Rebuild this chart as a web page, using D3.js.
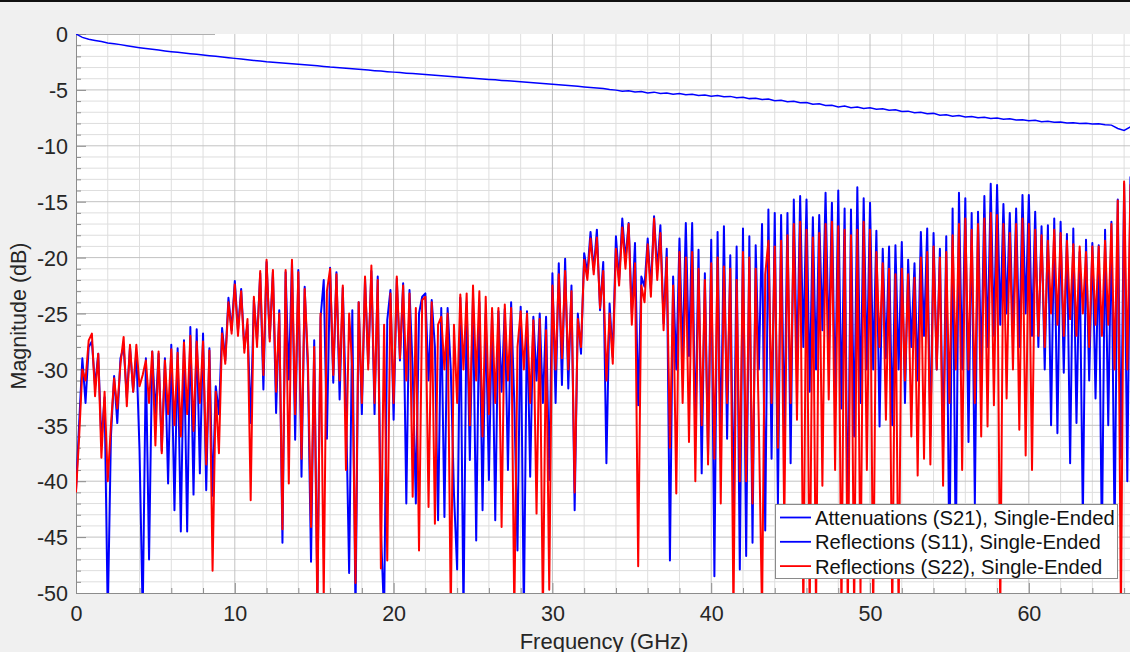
<!DOCTYPE html>
<html>
<head>
<meta charset="utf-8">
<script src="https://d3js.org/d3.v7.min.js"></script>
<style>
  html, body { margin: 0; padding: 0; background: #f0f0f0; }
  svg { display: block; font-family: "Liberation Sans", Arial, sans-serif; }
</style>
</head>
<body>
<div id="chart"></div>
<script>
// Sweep steps of the measured traces (GHz)
const reflStepGHz = 0.2;
const attStepGHz = 0.4;

const xTickValues = [0, 10, 20, 30, 40, 50, 60];
const yTickValues = [0, -5, -10, -15, -20, -25, -30, -35, -40, -45, -50];
const legendLabels = [
  'Attenuations (S21), Single-Ended',
  'Reflections (S11), Single-Ended',
  'Reflections (S22), Single-Ended'
];

// S21 magnitude (dB), one value per 0.4 GHz from 0 GHz
const s21Db = [
  0, -0.3, -0.47, -0.58, -0.68, -0.8, -0.87, -0.95, -1.05, -1.14,
  -1.22, -1.29, -1.36, -1.44, -1.51, -1.58, -1.64, -1.7, -1.76, -1.82,
  -1.88, -1.94, -2.0, -2.06, -2.12, -2.18, -2.24, -2.3, -2.36, -2.42,
  -2.48, -2.52, -2.57, -2.61, -2.66, -2.7, -2.75, -2.8, -2.85, -2.9,
  -2.96, -3.0, -3.05, -3.09, -3.14, -3.18, -3.23, -3.28, -3.32, -3.37,
  -3.41, -3.45, -3.5, -3.54, -3.58, -3.63, -3.67, -3.71, -3.76, -3.8,
  -3.84, -3.89, -3.93, -3.97, -4.02, -4.06, -4.1, -4.15, -4.19, -4.23,
  -4.28, -4.32, -4.36, -4.41, -4.45, -4.49, -4.54, -4.58, -4.63, -4.68,
  -4.73, -4.78, -4.83, -4.88, -4.96, -5.02, -5.12, -5.08, -5.18, -5.14,
  -5.27, -5.2, -5.32, -5.28, -5.38, -5.33, -5.44, -5.39, -5.5, -5.46,
  -5.56, -5.5, -5.62, -5.58, -5.7, -5.66, -5.78, -5.74, -5.86, -5.82,
  -5.96, -5.92, -6.05, -6.02, -6.15, -6.12, -6.28, -6.24, -6.4, -6.38,
  -6.52, -6.45, -6.6, -6.54, -6.66, -6.6, -6.72, -6.68, -6.82, -6.78,
  -6.94, -6.9, -7.04, -7.0, -7.14, -7.1, -7.26, -7.22, -7.36, -7.3,
  -7.42, -7.38, -7.5, -7.45, -7.56, -7.52, -7.62, -7.58, -7.7, -7.66,
  -7.76, -7.72, -7.84, -7.8, -7.9, -7.88, -7.96, -7.93, -8.0, -7.98,
  -8.06, -8.02, -8.12, -8.15, -8.45, -8.62, -8.3, -8.4
];

// S11 magnitude (dB), one value per 0.2 GHz from 0 GHz
const s11Db = [
  -40.8, -34.8, -29, -33, -28, -27.5, -31.5, -28.6, -36.5, -32.5,
  -52, -36, -30.6, -34.8, -29, -28, -32.5, -28, -32, -28.5,
  -37.2, -52, -29, -47, -28.4, -34, -28.6, -37.3, -29, -40.2,
  -27.8, -42.6, -28.1, -44.5, -27.4, -44.5, -26.2, -41.2, -26.4, -39.3,
  -26.8, -40.8, -28.1, -41.3, -31.5, -34, -26.3, -29.2, -23.6, -26.5,
  -22.1, -26.5, -22.8, -28.1, -26, -34.8, -23.8, -27.4, -21.4, -31.8,
  -20.4, -27.2, -21.3, -33.9, -24.7, -45.5, -21.3, -30.9, -20.4, -36.3,
  -21.1, -39.6, -22.6, -30, -47.2, -27.4, -50.5, -25.4, -22, -36.2,
  -20.9, -31.2, -21.3, -32.7, -22.7, -33, -48.2, -24.7, -52, -24,
  -34, -21.9, -29.5, -21.2, -34, -21.7, -44.4, -52, -25.6, -22.9,
  -34.5, -21.9, -29.2, -22.3, -42, -22.9, -30, -42, -25, -23.5,
  -23.2, -31, -23.8, -28, -43.5, -24.5, -43.2, -24.5, -30, -41.1,
  -47.9, -23.6, -52, -24, -38.1, -23.5, -45.3, -24, -42.6, -25,
  -39.9, -24.8, -43.5, -24.8, -32, -24.6, -39, -24, -33, -46.2,
  -24.4, -52, -24.8, -39.6, -25.3, -31, -25, -33, -25.3, -39.9,
  -21.4, -33, -20.5, -31.4, -20.1, -31.7, -22.5, -42.6, -25, -28.6,
  -19.6, -21.4, -17.7, -21.1, -17.5, -24.7, -20.4, -38.4, -24.1, -28.9,
  -18.1, -22, -16.5, -20.2, -16.9, -25, -18.7, -33.2, -21.7, -22.6,
  -18.3, -22.8, -16.3, -21.1, -17.1, -25.9, -19.2, -47.1, -21.7, -30,
  -18.3, -28.9, -16.9, -28.8, -16.9, -36, -19.3, -39.3, -21.4, -37.7,
  -18.4, -48.5, -17.7, -37, -17.2, -36.2, -19.8, -43.2, -19, -47.9,
  -17.4, -46.7, -18.1, -45.5, -18.9, -30, -17, -44.4, -15.7, -38,
  -16, -42, -16.2, -36, -16, -38.4, -14.8, -30, -14.5, -28,
  -14.8, -32, -16.4, -30, -16.2, -26.5, -14.2, -28, -15.1, -33,
  -14, -33.5, -15.6, -45, -15.7, -36, -13.7, -33, -14.7, -30,
  -15.1, -30, -17.6, -35.1, -19.2, -29, -19, -35, -18.9, -30,
  -18.6, -33, -20.2, -28, -20.5, -31, -17.7, -27, -17.4, -36,
  -17.8, -30, -19.2, -37, -18.1, -48, -15.6, -47, -14.2, -30,
  -14.7, -36.5, -16, -42, -15.9, -30, -14.5, -28, -13.4, -27,
  -13.5, -26, -15.2, -25, -16, -27, -15.6, -28, -14.4, -25,
  -14.4, -27, -15.9, -28, -17.2, -30, -17.1, -35, -16.5, -35.7,
  -16.8, -30.3, -17.9, -38.4, -17.4, -34.8, -19.5, -43.5, -18.4, -31,
  -18.7, -32.6, -18.9, -45.7, -17.5, -35, -16.8, -45, -14.8, -38,
  -13.4, -40, -12.8, -30, -14
];

// S22 magnitude (dB), one value per 0.2 GHz from 0 GHz
const s22Db = [
  -41, -36, -30, -31, -27.4, -26.8, -32.4, -28.6, -37.9, -32,
  -40, -35, -30.8, -33.5, -29.5, -27.1, -33.3, -27.8, -32, -27.8,
  -31.5, -30.5, -29.2, -33, -28.4, -36.8, -28.4, -37.5, -29.2, -34,
  -28.2, -35, -28.5, -36, -27.6, -34, -27, -35.5, -27.5, -33,
  -27.5, -38.5, -28.3, -48, -32, -37.5, -26.8, -29.5, -24, -26.8,
  -22.4, -27, -23, -28.5, -25.5, -41.7, -23.5, -28, -21.2, -30.5,
  -20.2, -27.5, -21.1, -32, -25, -44.3, -21.1, -40.2, -20.2, -34,
  -21.3, -38, -22.8, -29, -44.1, -28, -52, -25, -50.5, -23,
  -21, -30.5, -21.5, -31, -22.5, -39, -25, -30, -49.1, -24,
  -33, -21.7, -30, -20.7, -33, -22, -47.8, -26, -47.1, -23.2,
  -33, -21.7, -29, -22.5, -31, -23.2, -41.4, -24.5, -46.2, -23.8,
  -23.5, -42.3, -24, -43.8, -26, -25.3, -30, -25, -52, -26,
  -33, -23.3, -30, -23.2, -35, -22.5, -31, -23, -36, -23.5,
  -34, -24.5, -33, -24.5, -44.1, -24.2, -31, -24.5, -52, -28,
  -24.8, -30, -25, -33, -25.6, -42.9, -25.5, -52, -26.5, -49.7,
  -22.5, -30, -21.5, -29, -21.2, -30, -23, -41, -25.5, -28,
  -20.2, -22, -18.3, -21.5, -18.2, -24.5, -21.2, -31, -25, -29.5,
  -19.2, -22.5, -17.3, -21, -17, -26, -20.5, -47.6, -22.5, -24,
  -18.8, -23.5, -16.5, -22, -17.8, -26.5, -20, -37, -22.5, -41.1,
  -19.5, -33, -20, -36.5, -19.5, -40, -21, -35, -22, -38.5,
  -20.5, -38, -20, -42, -20.8, -33, -21, -52, -22, -40,
  -19.5, -40, -20, -42, -21, -35, -52, -21.5, -18.5, -33,
  -19, -37, -18.5, -44, -18, -33, -17, -34.5, -16.8, -52,
  -17.5, -52, -18.2, -52, -17.8, -40.4, -17, -32.7, -16.8, -39,
  -17.2, -52, -17.5, -52, -18, -52, -17.5, -50, -16.8, -39,
  -17.5, -52, -19.5, -28, -20.5, -34.5, -21, -52, -21.5, -52,
  -21, -31, -21.5, -36, -21.8, -39.5, -20, -38, -19.5, -38.5,
  -19, -30, -20, -40.4, -19.5, -33, -18, -30, -17, -39,
  -16.5, -30, -17.5, -33, -17, -36, -16.5, -35.1, -16, -33.2,
  -16.2, -52, -17, -32.6, -17.8, -30, -17, -35.4, -16.5, -37.7,
  -17, -39, -17.5, -27, -18, -28, -18.5, -25, -17.5, -26,
  -17.8, -27, -18.5, -25.5, -18.8, -27, -19, -25, -19.5, -28,
  -19, -26, -19, -27, -18.5, -26, -17, -30, -14.9, -52,
  -13.2, -30, -13.5, -25, -14
];

const seriesColors = ['#0000ff', '#0000ff', '#ff0000'];

// Figure and axes geometry
const width = 1130;
const height = 652;
const plot = { left: 76, top: 34, bottom: 593, right: 1140 };

// Pairs each magnitude with its sweep frequency
function toPoints(values, step) {
  return values.map((v, i) => ({ f: +(i * step).toFixed(2), db: v }));
}

const svg = d3.select('#chart').append('svg')
  .attr('width', width)
  .attr('height', height);

svg.append('rect')
  .attr('width', width).attr('height', height)
  .attr('fill', '#f0f0f0');

// dark strip along the top edge of the window
svg.append('rect')
  .attr('width', width).attr('height', 2)
  .attr('fill', '#111');

const x = d3.scaleLinear().domain([0, 67]).range([plot.left, plot.right]);
const y = d3.scaleLinear().domain([-50, 0]).range([plot.bottom, plot.top]);

svg.append('defs').append('clipPath').attr('id', 'plotClip')
  .append('rect')
  .attr('x', plot.left).attr('y', plot.top)
  .attr('width', width - plot.left).attr('height', plot.bottom - plot.top);

// Plot background
svg.append('rect')
  .attr('x', plot.left).attr('y', plot.top)
  .attr('width', width - plot.left).attr('height', plot.bottom - plot.top)
  .attr('fill', '#ffffff');

const grid = svg.append('g').attr('clip-path', 'url(#plotClip)');

// Minor grid: every 2 GHz and every 1 dB
grid.selectAll('.vminor')
  .data(d3.range(2, 67, 2).filter(d => d % 10 !== 0))
  .join('line')
  .attr('x1', d => x(d)).attr('x2', d => x(d))
  .attr('y1', plot.top).attr('y2', plot.bottom)
  .attr('stroke', '#dedede').attr('stroke-width', 1);

grid.selectAll('.hminor')
  .data(d3.range(-49, 0, 1).filter(d => d % 5 !== 0))
  .join('line')
  .attr('x1', plot.left).attr('x2', width)
  .attr('y1', d => y(d)).attr('y2', d => y(d))
  .attr('stroke', '#dedede').attr('stroke-width', 1);

// Major grid at tick values
grid.selectAll('.vmajor')
  .data(xTickValues.slice(1))
  .join('line')
  .attr('x1', d => x(d)).attr('x2', d => x(d))
  .attr('y1', plot.top).attr('y2', plot.bottom)
  .attr('stroke', '#c2c2c2').attr('stroke-width', 1);

grid.selectAll('.hmajor')
  .data(yTickValues.filter(d => d !== 0 && d !== -50))
  .join('line')
  .attr('x1', plot.left).attr('x2', width)
  .attr('y1', d => y(d)).attr('y2', d => y(d))
  .attr('stroke', '#c2c2c2').attr('stroke-width', 1);

// short top border segment
svg.append('line')
  .attr('x1', plot.left).attr('x2', 215)
  .attr('y1', plot.top + 0.5).attr('y2', plot.top + 0.5)
  .attr('stroke', '#b0b0b0');

// Axes; tick marks are drawn separately, pointing inward
const yAxis = d3.axisLeft(y).tickValues(yTickValues).tickSize(0).tickPadding(8)
  .tickFormat(d => String(d));
const xAxis = d3.axisBottom(x).tickValues(xTickValues).tickSize(0).tickPadding(13)
  .tickFormat(d => String(d));

const gy = svg.append('g').attr('transform', `translate(${plot.left},0)`).call(yAxis);
const gx = svg.append('g').attr('transform', `translate(0,${plot.bottom})`).call(xAxis);

[gx, gy].forEach(g => {
  g.select('.domain').remove();
  g.selectAll('text')
    .attr('fill', '#262626')
    .style('font-size', '21.5px');
});
gy.selectAll('text').attr('dy', '0.36em');

svg.append('line')
  .attr('x1', plot.left + 0.5).attr('x2', plot.left + 0.5)
  .attr('y1', plot.top).attr('y2', plot.bottom)
  .attr('stroke', '#8c8c8c');
svg.append('line')
  .attr('x1', plot.left).attr('x2', width)
  .attr('y1', plot.bottom + 0.5).attr('y2', plot.bottom + 0.5)
  .attr('stroke', '#8c8c8c');

// tick marks: major 10 px, minor 5 px
svg.append('g').selectAll('line')
  .data(d3.range(-50, 1, 1))
  .join('line')
  .attr('x1', plot.left)
  .attr('x2', d => plot.left + (d % 5 === 0 ? 10 : 5))
  .attr('y1', d => y(d) + 0.5).attr('y2', d => y(d) + 0.5)
  .attr('stroke', '#8c8c8c');

svg.append('g').selectAll('line')
  .data(d3.range(0, 67, 2))
  .join('line')
  .attr('x1', d => x(d) + 0.5).attr('x2', d => x(d) + 0.5)
  .attr('y1', plot.bottom)
  .attr('y2', d => plot.bottom - (d % 10 === 0 ? 10 : 5))
  .attr('stroke', '#8c8c8c');

// Traces
const line = d3.line()
  .x(d => x(d.f))
  .y(d => y(d.db));

const traces = svg.append('g').attr('clip-path', 'url(#plotClip)');

traces.append('path')
  .datum(toPoints(s21Db, attStepGHz))
  .attr('d', line)
  .attr('fill', 'none')
  .attr('stroke', seriesColors[0])
  .attr('stroke-width', 1.5);

traces.append('path')
  .datum(toPoints(s11Db, reflStepGHz))
  .attr('d', line)
  .attr('fill', 'none')
  .attr('stroke', seriesColors[1])
  .attr('stroke-width', 2)
  .attr('stroke-linejoin', 'round');

traces.append('path')
  .datum(toPoints(s22Db, reflStepGHz))
  .attr('d', line)
  .attr('fill', 'none')
  .attr('stroke', seriesColors[2])
  .attr('stroke-width', 2)
  .attr('stroke-linejoin', 'round');

// Axis titles (the bottom one is cut by the window edge, as in the original)
svg.append('text')
  .attr('x', 604).attr('y', 649)
  .attr('text-anchor', 'middle')
  .attr('fill', '#262626')
  .style('font-size', '22px')
  .text('Frequency (GHz)');

svg.append('text')
  .attr('transform', 'translate(26,316) rotate(-90)')
  .attr('text-anchor', 'middle')
  .attr('fill', '#262626')
  .style('font-size', '21.5px')
  .text('Magnitude (dB)');

// Legend box
const legend = svg.append('g').attr('transform', 'translate(775,504)');
legend.append('rect')
  .attr('x', 0.5).attr('y', 0.5)
  .attr('width', 342).attr('height', 74)
  .attr('fill', '#ffffff')
  .attr('stroke', '#8a8a8a');

const rows = legend.selectAll('g.row')
  .data(legendLabels)
  .join('g')
  .attr('transform', (d, i) => `translate(0,${13.5 + i * 24.3})`);

rows.append('line')
  .attr('x1', 5).attr('x2', 36)
  .attr('y1', 0).attr('y2', 0)
  .attr('stroke', (d, i) => seriesColors[i])
  .attr('stroke-width', 1.8);

rows.append('text')
  .attr('x', 40).attr('y', 7.5)
  .attr('fill', '#111')
  .style('font-size', '20.2px')
  .text(d => d);
</script>
</body>
</html>
